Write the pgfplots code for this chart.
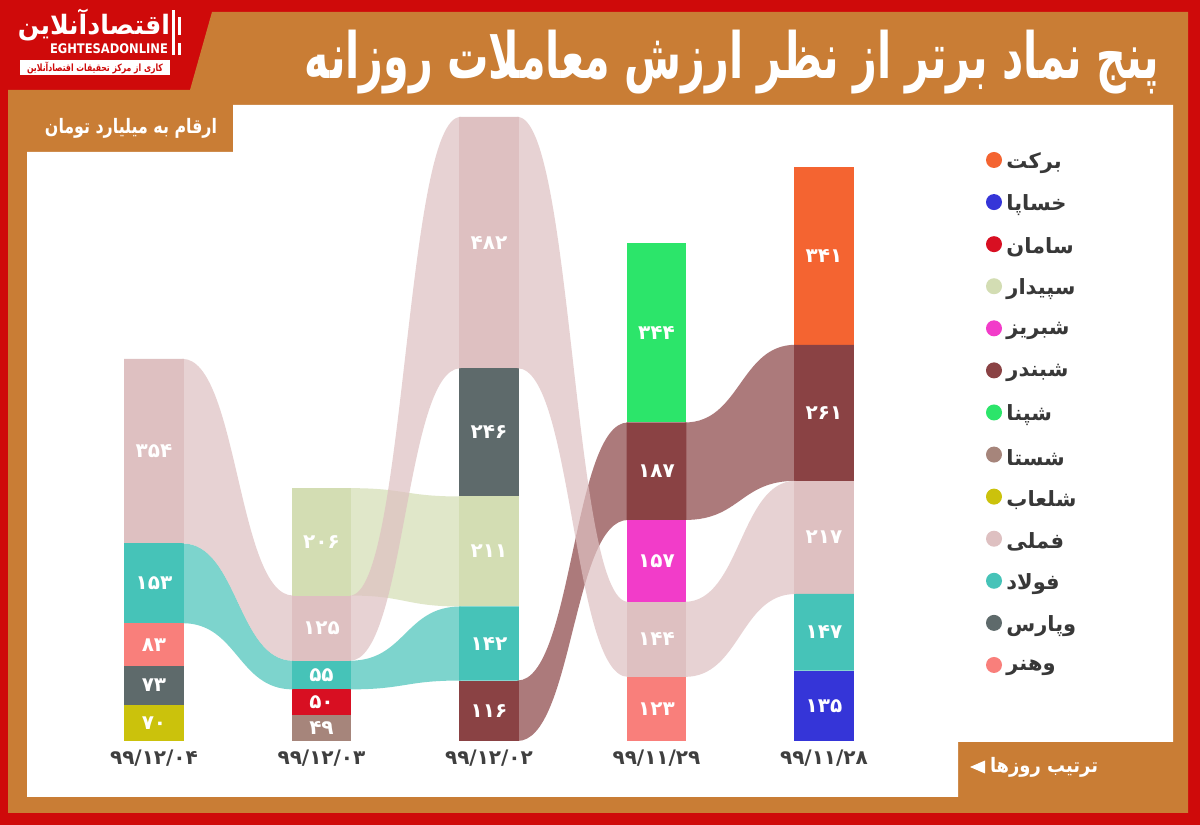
\documentclass[border=0pt]{standalone}
\usepackage{fontspec}
\usepackage{graphicx}
\usepackage{pgfplots}
\pgfplotsset{compat=1.18}
\setmainfont{DejaVu Sans}
\newfontfamily\fa[Script=Arabic]{DejaVu Sans}
\TeXXeTstate=1

\definecolor{framered}{HTML}{CF0A0A}
\definecolor{frameorange}{HTML}{C97D35}
\definecolor{datecol}{HTML}{3F3F3F}
\definecolor{legcol}{HTML}{383838}
\definecolor{barakat}{HTML}{F46431}
\definecolor{khsapa}{HTML}{3535D8}
\definecolor{saman}{HTML}{D80F22}
\definecolor{sepidar}{HTML}{D3DDB3}
\definecolor{shabriz}{HTML}{F23CC9}
\definecolor{shebandar}{HTML}{8A4244}
\definecolor{shepna}{HTML}{2CE56A}
\definecolor{shasta}{HTML}{A6857B}
\definecolor{shalab}{HTML}{CBC20C}
\definecolor{fameli}{HTML}{DEC0C1}
\definecolor{folad}{HTML}{46C3B8}
\definecolor{vapars}{HTML}{5E6A6B}
\definecolor{vahonar}{HTML}{F97F7B}

% ribbon between two neighbouring bars: colour, left edge, mid, right edge, lo1, hi1, lo2, hi2
% (the ends reach a little under the bars, which are drawn on top)
\newcommand\ribbon[8]{%
  \fill[#1, fill opacity=0.7]
    (axis cs:#2,#5) .. controls (axis cs:#3,#5) and (axis cs:#3,#7) .. (axis cs:#4,#7)
    -- (axis cs:#4,#8) .. controls (axis cs:#3,#8) and (axis cs:#3,#6) .. (axis cs:#2,#6) -- cycle;}

\begin{document}
\begin{tikzpicture}[x=0.5pt, y=0.5pt]
% frame
\fill[framered] (0,0) rectangle (1200,825);
\fill[frameorange] (8,735) -- (190,735) -- (212,813) -- (1188,813) -- (1188,12) -- (8,12) -- cycle;
\fill[white] (233,720) -- (1173,720) -- (1173,83) -- (958,83) -- (958,28) -- (27,28) -- (27,673) -- (233,673) -- cycle;

% logo
\node[white, inner sep=0] at (94,800) {\resizebox*{76pt}{16pt}{\fa\bfseries\beginR اقتصادآنلاین\endR}};
\node[white, inner sep=0] at (109,776) {\resizebox*{59pt}{5pt}{\bfseries EGHTESADONLINE}};
\fill[white] (20,750) rectangle (170,765);
\node[inner sep=0] at (95,757.5) {\resizebox*{68pt}{6pt}{\fa\bfseries\color{framered}\beginR کاری از مرکز تحقیقات اقتصادآنلاین\endR}};
\fill[white] (172,770) rectangle (175,815);
\fill[white] (178,790) rectangle (181,808);
\fill[white] (178,770) rectangle (181,782);

% title and notes
\node[white, inner sep=0] at (732,763) {\resizebox*{427pt}{32pt}{\fa\bfseries\beginR پنج نماد برتر از نظر ارزش معاملات روزانه\endR}};
\node[white, inner sep=0] at (131,697) {\resizebox*{86pt}{10pt}{\fa\bfseries\beginR ارقام به میلیارد تومان\endR}};
\node[white, inner sep=0] at (1044,58) {\resizebox*{54pt}{10pt}{\fa\bfseries\beginR ترتیب روزها\endR}};
\fill[white] (970,58) -- (985,64.5) -- (985,51.5) -- cycle;

\begin{axis}[
  at={(26.75pt,42pt)}, anchor=south west,
  scale only axis, width=435.5pt, height=312.8pt,
  xmin=-0.6, xmax=4.6, ymin=0, ymax=1200,
  clip=false,
  axis line style={draw=none}, tick style={draw=none},
  ytick=\empty,
  xtick={0,1,2,3,4},
  xticklabels={۹۹/۱۲/۰۴,۹۹/۱۲/۰۳,۹۹/۱۲/۰۲,۹۹/۱۱/۲۹,۹۹/۱۱/۲۸},
  xticklabel style={font=\fa\bfseries\fontsize{10}{12}\selectfont, text=datecol, yshift=-1pt},
  ybar stacked, bar width=0.358,
  point meta=explicit symbolic,
  nodes near coords,
  every node near coord/.append style={anchor=center,
    font=\fa\bfseries\fontsize{10}{11}\selectfont, text=white},
]
% ribbons
\ribbon{fameli}{0.17}{0.5}{0.83}{379}{733}{154}{279}
\ribbon{folad}{0.17}{0.5}{0.83}{226}{379}{99}{154}
\ribbon{fameli}{1.17}{1.5}{1.83}{154}{279}{715}{1197}
\ribbon{folad}{1.17}{1.5}{1.83}{99}{154}{116}{258}
\ribbon{sepidar}{1.17}{1.5}{1.83}{279}{485}{258}{469}
\ribbon{fameli}{2.17}{2.5}{2.83}{715}{1197}{123}{267}
\ribbon{shebandar}{2.17}{2.5}{2.83}{0}{116}{424}{611}
\ribbon{fameli}{3.17}{3.5}{3.83}{123}{267}{282}{499}
\ribbon{shebandar}{3.17}{3.5}{3.83}{424}{611}{499}{760}

% layer 1 (bottom)
\addplot[fill=shalab, draw=none] coordinates {(0,70)[۷۰] (1,0)[] (2,0)[] (3,0)[] (4,0)[]};
\addplot[fill=shasta, draw=none] coordinates {(0,0)[] (1,49)[۴۹] (2,0)[] (3,0)[] (4,0)[]};
\addplot[fill=shebandar, draw=none] coordinates {(0,0)[] (1,0)[] (2,116)[۱۱۶] (3,0)[] (4,0)[]};
\addplot[fill=vahonar, draw=none] coordinates {(0,0)[] (1,0)[] (2,0)[] (3,123)[۱۲۳] (4,0)[]};
\addplot[fill=khsapa, draw=none] coordinates {(0,0)[] (1,0)[] (2,0)[] (3,0)[] (4,135)[۱۳۵]};
% layer 2
\addplot[fill=vapars, draw=none] coordinates {(0,73)[۷۳] (1,0)[] (2,0)[] (3,0)[] (4,0)[]};
\addplot[fill=saman, draw=none] coordinates {(0,0)[] (1,50)[۵۰] (2,0)[] (3,0)[] (4,0)[]};
\addplot[fill=folad, draw=none] coordinates {(0,0)[] (1,0)[] (2,142)[۱۴۲] (3,0)[] (4,147)[۱۴۷]};
\addplot[fill=fameli, draw=none] coordinates {(0,0)[] (1,0)[] (2,0)[] (3,144)[۱۴۴] (4,0)[]};
% layer 3
\addplot[fill=vahonar, draw=none] coordinates {(0,83)[۸۳] (1,0)[] (2,0)[] (3,0)[] (4,0)[]};
\addplot[fill=folad, draw=none] coordinates {(0,0)[] (1,55)[۵۵] (2,0)[] (3,0)[] (4,0)[]};
\addplot[fill=sepidar, draw=none] coordinates {(0,0)[] (1,0)[] (2,211)[۲۱۱] (3,0)[] (4,0)[]};
\addplot[fill=shabriz, draw=none] coordinates {(0,0)[] (1,0)[] (2,0)[] (3,157)[۱۵۷] (4,0)[]};
\addplot[fill=fameli, draw=none] coordinates {(0,0)[] (1,0)[] (2,0)[] (3,0)[] (4,217)[۲۱۷]};
% layer 4
\addplot[fill=folad, draw=none] coordinates {(0,153)[۱۵۳] (1,0)[] (2,0)[] (3,0)[] (4,0)[]};
\addplot[fill=fameli, draw=none] coordinates {(0,0)[] (1,125)[۱۲۵] (2,0)[] (3,0)[] (4,0)[]};
\addplot[fill=vapars, draw=none] coordinates {(0,0)[] (1,0)[] (2,246)[۲۴۶] (3,0)[] (4,0)[]};
\addplot[fill=shebandar, draw=none] coordinates {(0,0)[] (1,0)[] (2,0)[] (3,187)[۱۸۷] (4,261)[۲۶۱]};
% layer 5 (top)
\addplot[fill=fameli, draw=none] coordinates {(0,354)[۳۵۴] (1,0)[] (2,482)[۴۸۲] (3,0)[] (4,0)[]};
\addplot[fill=sepidar, draw=none] coordinates {(0,0)[] (1,206)[۲۰۶] (2,0)[] (3,0)[] (4,0)[]};
\addplot[fill=shepna, draw=none] coordinates {(0,0)[] (1,0)[] (2,0)[] (3,344)[۳۴۴] (4,0)[]};
\addplot[fill=barakat, draw=none] coordinates {(0,0)[] (1,0)[] (2,0)[] (3,0)[] (4,341)[۳۴۱]};
\end{axis}

% legend
\foreach \c/\t [count=\i from 0] in {barakat/برکت, khsapa/خساپا, saman/سامان, sepidar/سپیدار, shabriz/شبریز, shebandar/شبندر, shepna/شپنا, shasta/شستا, shalab/شلعاب, fameli/فملی, folad/فولاد, vapars/وپارس, vahonar/وهنر}{
  \fill[\c] (994,665-42.08*\i) circle (8);
  \node[anchor=west, inner sep=0, text=legcol, font=\fa\bfseries\fontsize{10.5}{12}\selectfont] at (1006,662-42.08*\i) {\beginR\t\endR};
}
\end{tikzpicture}
\end{document}
